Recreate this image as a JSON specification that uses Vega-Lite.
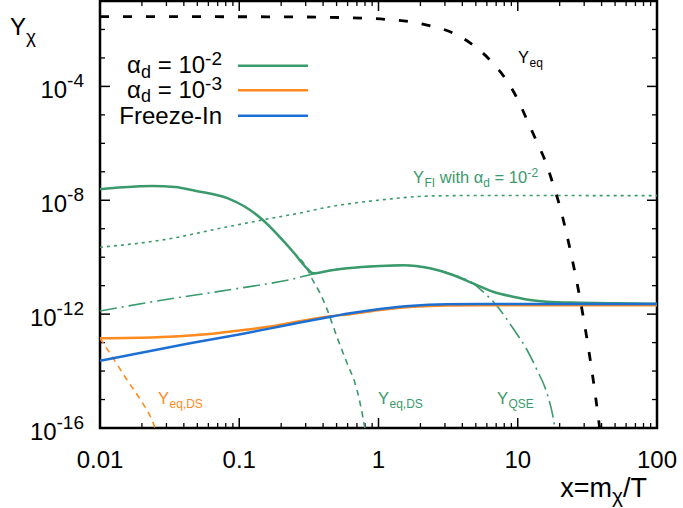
{
  "$schema": "https://vega.github.io/schema/vega-lite/v6.json",
  "width": 557,
  "height": 427,
  "autosize": {"type": "none"},
  "padding": {"left": 100, "top": 1, "right": 26, "bottom": 80},
  "background": "white",
  "config": {
    "view": {"stroke": "black", "strokeWidth": 2.5},
    "text": {"font": "Liberation Sans"},
    "axis": {"domain": false, "grid": false, "labels": false, "ticks": false, "title": null}
  },
  "datasets": {
    "curves": [
      {"series": "a2", "x": 0.01, "y": 2.43e-8},
      {"series": "a2", "x": 0.01463, "y": 2.85e-8},
      {"series": "a2", "x": 0.02362, "y": 3.17e-8},
      {"series": "a2", "x": 0.03456, "y": 2.9e-8},
      {"series": "a2", "x": 0.04811, "y": 2.17e-8},
      {"series": "a2", "x": 0.08303, "y": 1.17e-8},
      {"series": "a2", "x": 0.11, "y": 5.94e-9},
      {"series": "a2", "x": 0.1457, "y": 2.15e-9},
      {"series": "a2", "x": 0.1898, "y": 6.0e-10},
      {"series": "a2", "x": 0.2432, "y": 1.56e-10},
      {"series": "a2", "x": 0.3066, "y": 4.07e-11},
      {"series": "a2", "x": 0.3385, "y": 2.72e-11},
      {"series": "a2", "x": 0.4484, "y": 3.41e-11},
      {"series": "a2", "x": 0.5939, "y": 4.07e-11},
      {"series": "a2", "x": 1.025, "y": 4.91e-11},
      {"series": "a2", "x": 1.5, "y": 5.19e-11},
      {"series": "a2", "x": 2.343, "y": 4.07e-11},
      {"series": "a2", "x": 3.428, "y": 2.37e-11},
      {"series": "a2", "x": 4.771, "y": 1.21e-11},
      {"series": "a2", "x": 6.641, "y": 6.14e-12},
      {"series": "a2", "x": 9.245, "y": 4.1e-12},
      {"series": "a2", "x": 12.25, "y": 3.14e-12},
      {"series": "a2", "x": 16.22, "y": 2.73e-12},
      {"series": "a2", "x": 27.99, "y": 2.52e-12},
      {"series": "a2", "x": 48.31, "y": 2.4e-12},
      {"series": "a2", "x": 100, "y": 2.3e-12},

      {"series": "a3", "x": 0.01, "y": 1.416e-13},
      {"series": "a3", "x": 0.02566, "y": 1.535e-13},
      {"series": "a3", "x": 0.05224, "y": 1.879e-13},
      {"series": "a3", "x": 0.09954, "y": 2.661e-13},
      {"series": "a3", "x": 0.1662, "y": 3.677e-13},
      {"series": "a3", "x": 0.2314, "y": 4.88e-13},
      {"series": "a3", "x": 0.3222, "y": 6.48e-13},
      {"series": "a3", "x": 0.4484, "y": 8.39e-13},
      {"series": "a3", "x": 0.6242, "y": 9.94e-13},
      {"series": "a3", "x": 1.025, "y": 1.397e-12},
      {"series": "a3", "x": 1.769, "y": 1.809e-12},
      {"series": "a3", "x": 3.103, "y": 2.026e-12},
      {"series": "a3", "x": 5.357, "y": 2.06e-12},
      {"series": "a3", "x": 100, "y": 2.06e-12},

      {"series": "fi", "x": 0.01, "y": 2.313e-14},
      {"series": "fi", "x": 0.04428, "y": 9.45e-14},
      {"series": "fi", "x": 0.09954, "y": 1.925e-13},
      {"series": "fi", "x": 0.2314, "y": 4.32e-13},
      {"series": "fi", "x": 0.3801, "y": 6.91e-13},
      {"series": "fi", "x": 0.6242, "y": 1.069e-12},
      {"series": "fi", "x": 1.025, "y": 1.515e-12},
      {"series": "fi", "x": 1.769, "y": 1.978e-12},
      {"series": "fi", "x": 3.103, "y": 2.215e-12},
      {"series": "fi", "x": 5.357, "y": 2.27e-12},
      {"series": "fi", "x": 100, "y": 2.27e-12},

      {"series": "yeq", "x": 0.01, "y": 0.0281},
      {"series": "yeq", "x": 0.1, "y": 0.028},
      {"series": "yeq", "x": 0.2731, "y": 0.0275},
      {"series": "yeq", "x": 0.6, "y": 0.0258},
      {"series": "yeq", "x": 1.114, "y": 0.0228},
      {"series": "yeq", "x": 1.684, "y": 0.01875},
      {"series": "yeq", "x": 2.382, "y": 0.01323},
      {"series": "yeq", "x": 3.428, "y": 0.00751},
      {"series": "yeq", "x": 4.771, "y": 0.00285},
      {"series": "yeq", "x": 6.319, "y": 8.46e-4},
      {"series": "yeq", "x": 8.1, "y": 1.97e-4},
      {"series": "yeq", "x": 9.876, "y": 3.91e-5},
      {"series": "yeq", "x": 11.66, "y": 6.6e-6},
      {"series": "yeq", "x": 13.52, "y": 1.31e-6},
      {"series": "yeq", "x": 15.96, "y": 2.04e-7},
      {"series": "yeq", "x": 17.91, "y": 3.73e-8},
      {"series": "yeq", "x": 20.11, "y": 5.8e-9},
      {"series": "yeq", "x": 22, "y": 1.0e-9},
      {"series": "yeq", "x": 24, "y": 1.5e-10},
      {"series": "yeq", "x": 26, "y": 2.3e-11},
      {"series": "yeq", "x": 28, "y": 3.5e-12},
      {"series": "yeq", "x": 30, "y": 5.2e-13},
      {"series": "yeq", "x": 32, "y": 7.6e-14},
      {"series": "yeq", "x": 34, "y": 1.1e-14},
      {"series": "yeq", "x": 36, "y": 1.55e-15},
      {"series": "yeq", "x": 38, "y": 2.1e-16},
      {"series": "yeq", "x": 40, "y": 2.8e-17},

      {"series": "yfi", "x": 0.01, "y": 2.23e-10},
      {"series": "yfi", "x": 0.02788, "y": 4.02e-10},
      {"series": "yfi", "x": 0.08303, "y": 1.18e-9},
      {"series": "yfi", "x": 0.1962, "y": 2.65e-9},
      {"series": "yfi", "x": 0.2514, "y": 3.29e-9},
      {"series": "yfi", "x": 0.4484, "y": 5.94e-9},
      {"series": "yfi", "x": 1.025, "y": 1.02e-8},
      {"series": "yfi", "x": 2.343, "y": 1.41e-8},
      {"series": "yfi", "x": 5, "y": 1.47e-8},
      {"series": "yfi", "x": 100, "y": 1.45e-8},

      {"series": "eqds2", "x": 0.1898, "y": 6.0e-10},
      {"series": "eqds2", "x": 0.2432, "y": 1.56e-10},
      {"series": "eqds2", "x": 0.3066, "y": 4.07e-11},
      {"series": "eqds2", "x": 0.3316, "y": 1.82e-11},
      {"series": "eqds2", "x": 0.3801, "y": 5.5e-12},
      {"series": "eqds2", "x": 0.4267, "y": 1.5e-12},
      {"series": "eqds2", "x": 0.5032, "y": 1.57e-13},
      {"series": "eqds2", "x": 0.5939, "y": 1.92e-14},
      {"series": "eqds2", "x": 0.7009, "y": 2.16e-15},
      {"series": "eqds2", "x": 0.774, "y": 2.3e-16},
      {"series": "eqds2", "x": 0.83, "y": 3e-17},

      {"series": "eqds3", "x": 0.01, "y": 1.42e-13},
      {"series": "eqds3", "x": 0.0124, "y": 2.88e-14},
      {"series": "eqds3", "x": 0.01563, "y": 4.86e-15},
      {"series": "eqds3", "x": 0.01938, "y": 1.04e-15},
      {"series": "eqds3", "x": 0.02483, "y": 1e-16},
      {"series": "eqds3", "x": 0.027, "y": 2.5e-17},

      {"series": "qse", "x": 0.01, "y": 1.29e-12},
      {"series": "qse", "x": 0.02697, "y": 3.01e-12},
      {"series": "qse", "x": 0.08303, "y": 7.05e-12},
      {"series": "qse", "x": 0.2514, "y": 1.79e-11},
      {"series": "qse", "x": 0.3385, "y": 2.57e-11},
      {"series": "qse", "x": 0.4484, "y": 3.41e-11},
      {"series": "qse", "x": 0.5939, "y": 4.07e-11},
      {"series": "qse", "x": 1.025, "y": 4.91e-11},
      {"series": "qse", "x": 1.5, "y": 5.19e-11},
      {"series": "qse", "x": 2.343, "y": 4.07e-11},
      {"series": "qse", "x": 3.428, "y": 2.37e-11},
      {"series": "qse", "x": 4.771, "y": 1.21e-11},
      {"series": "qse", "x": 5.629, "y": 6.14e-12},
      {"series": "qse", "x": 7.096, "y": 1.93e-12},
      {"series": "qse", "x": 9.245, "y": 3.18e-13},
      {"series": "qse", "x": 11.66, "y": 5.5e-14},
      {"series": "qse", "x": 13.75, "y": 1.09e-14},
      {"series": "qse", "x": 16.22, "y": 1.66e-15},
      {"series": "qse", "x": 17.91, "y": 2.5e-16},
      {"series": "qse", "x": 19.0, "y": 4e-17}
    ],
    "labels": [
      {"series": "yeq", "x": 10.04, "y": 6.8e-4, "sub": "eq"},
      {"series": "yfi", "x": 1.769, "y": 3.95e-8, "sub": "FI"},
      {"series": "eqds3", "x": 0.02609, "y": 6.97e-16, "sub": "eq,DS"},
      {"series": "eqds2", "x": 0.9918, "y": 6.97e-16, "sub": "eq,DS"},
      {"series": "qse", "x": 7.096, "y": 6.97e-16, "sub": "QSE"}
    ],
    "legend": [
      {"series": "a2", "y": 5.34e-4, "exp": "-2"},
      {"series": "a3", "y": 7.29e-5, "exp": "-3"},
      {"series": "fi", "y": 9.35e-6, "exp": ""}
    ],
    "yticks": [
      {"v": 1e-4, "exp": "-4"},
      {"v": 1e-8, "exp": "-8"},
      {"v": 1e-12, "exp": "-12"},
      {"v": 1e-16, "exp": "-16"}
    ],
    "xticks": [
      {"v": 0.01, "t": "0.01"},
      {"v": 0.1, "t": "0.1"},
      {"v": 1, "t": "1"},
      {"v": 10, "t": "10"},
      {"v": 100, "t": "100"}
    ],
    "xminor": [
      {"v": 0.02}, {"v": 0.03}, {"v": 0.04}, {"v": 0.05}, {"v": 0.06}, {"v": 0.07}, {"v": 0.08}, {"v": 0.09},
      {"v": 0.2}, {"v": 0.3}, {"v": 0.4}, {"v": 0.5}, {"v": 0.6}, {"v": 0.7}, {"v": 0.8}, {"v": 0.9},
      {"v": 2}, {"v": 3}, {"v": 4}, {"v": 5}, {"v": 6}, {"v": 7}, {"v": 8}, {"v": 9},
      {"v": 20}, {"v": 30}, {"v": 40}, {"v": 50}, {"v": 60}, {"v": 70}, {"v": 80}, {"v": 90}
    ],
    "yminor": [
      {"v": 1e-15}, {"v": 1e-14}, {"v": 1e-13}, {"v": 1e-11}, {"v": 1e-10}, {"v": 1e-9},
      {"v": 1e-7}, {"v": 1e-6}, {"v": 1e-5}, {"v": 1e-3}, {"v": 1e-2}
    ]
  },
  "layer": [
    {
      "data": {"name": "curves"},
      "transform": [{"filter": "datum.series == 'yfi'"}],
      "mark": {"type": "line", "clip": true, "interpolate": "monotone", "strokeWidth": 1.6, "strokeDash": [3, 4]},
      "encoding": {
        "x": {"field": "x", "type": "quantitative", "scale": {"type": "log", "domain": [0.01, 100], "nice": false}, "axis": null},
        "y": {"field": "y", "type": "quantitative", "scale": {"type": "log", "domain": [1e-16, 0.1], "nice": false}, "axis": null},
        "color": {"field": "series", "type": "nominal", "legend": null,
          "scale": {"domain": ["a2","a3","fi","yeq","yfi","eqds2","eqds3","qse"], "range": ["#3a9a6c","#ff8a1d","#1d6fd4","#000000","#3a9a6c","#3a9a6c","#ff8a1d","#3a9a6c"]}}
      }
    },
    {
      "data": {"name": "xticks"},
      "mark": {"type": "rule", "strokeWidth": 1.5, "color": "black"},
      "encoding": {
        "x": {"field": "v", "type": "quantitative", "scale": {"type": "log", "domain": [0.01, 100], "nice": false}},
        "y": {"datum": 1e-16, "type": "quantitative", "scale": {"type": "log", "domain": [1e-16, 0.1], "nice": false}},
        "y2": {"datum": 2.245e-16}
      }
    },
    {
      "data": {"name": "xminor"},
      "mark": {"type": "rule", "strokeWidth": 1.3, "color": "black"},
      "encoding": {
        "x": {"field": "v", "type": "quantitative", "scale": {"type": "log", "domain": [0.01, 100], "nice": false}},
        "y": {"datum": 1e-16, "type": "quantitative", "scale": {"type": "log", "domain": [1e-16, 0.1], "nice": false}},
        "y2": {"datum": 1.498e-16}
      }
    },
    {
      "data": {"name": "xticks"},
      "mark": {"type": "rule", "strokeWidth": 1.5, "color": "black"},
      "encoding": {
        "x": {"field": "v", "type": "quantitative", "scale": {"type": "log", "domain": [0.01, 100], "nice": false}},
        "y": {"datum": 0.1, "type": "quantitative", "scale": {"type": "log", "domain": [1e-16, 0.1], "nice": false}},
        "y2": {"datum": 0.04454}
      }
    },
    {
      "data": {"name": "xminor"},
      "mark": {"type": "rule", "strokeWidth": 1.3, "color": "black"},
      "encoding": {
        "x": {"field": "v", "type": "quantitative", "scale": {"type": "log", "domain": [0.01, 100], "nice": false}},
        "y": {"datum": 0.1, "type": "quantitative", "scale": {"type": "log", "domain": [1e-16, 0.1], "nice": false}},
        "y2": {"datum": 0.06676}
      }
    },
    {
      "data": {"name": "yticks"},
      "mark": {"type": "rule", "strokeWidth": 1.5, "color": "black"},
      "encoding": {
        "x": {"datum": 0.01, "type": "quantitative", "scale": {"type": "log", "domain": [0.01, 100], "nice": false}},
        "x2": {"datum": 0.0118},
        "y": {"field": "v", "type": "quantitative", "scale": {"type": "log", "domain": [1e-16, 0.1], "nice": false}}
      }
    },
    {
      "data": {"name": "yminor"},
      "mark": {"type": "rule", "strokeWidth": 1.3, "color": "black"},
      "encoding": {
        "x": {"datum": 0.01, "type": "quantitative", "scale": {"type": "log", "domain": [0.01, 100], "nice": false}},
        "x2": {"datum": 0.010862},
        "y": {"field": "v", "type": "quantitative", "scale": {"type": "log", "domain": [1e-16, 0.1], "nice": false}}
      }
    },
    {
      "data": {"name": "yticks"},
      "mark": {"type": "rule", "strokeWidth": 1.5, "color": "black"},
      "encoding": {
        "x": {"datum": 100, "type": "quantitative", "scale": {"type": "log", "domain": [0.01, 100], "nice": false}},
        "x2": {"datum": 84.74},
        "y": {"field": "v", "type": "quantitative", "scale": {"type": "log", "domain": [1e-16, 0.1], "nice": false}}
      }
    },
    {
      "data": {"name": "yminor"},
      "mark": {"type": "rule", "strokeWidth": 1.3, "color": "black"},
      "encoding": {
        "x": {"datum": 100, "type": "quantitative", "scale": {"type": "log", "domain": [0.01, 100], "nice": false}},
        "x2": {"datum": 92.06},
        "y": {"field": "v", "type": "quantitative", "scale": {"type": "log", "domain": [1e-16, 0.1], "nice": false}}
      }
    },
    {
      "data": {"name": "curves"},
      "transform": [{"filter": "datum.series == 'qse'"}],
      "mark": {"type": "line", "clip": true, "interpolate": "monotone", "strokeWidth": 1.6, "strokeDash": [17, 5, 2, 5]},
      "encoding": {
        "x": {"field": "x", "type": "quantitative", "scale": {"type": "log", "domain": [0.01, 100], "nice": false}},
        "y": {"field": "y", "type": "quantitative", "scale": {"type": "log", "domain": [1e-16, 0.1], "nice": false}},
        "color": {"field": "series", "type": "nominal", "legend": null}
      }
    },
    {
      "data": {"name": "curves"},
      "transform": [{"filter": "datum.series == 'eqds2' || datum.series == 'eqds3'"}],
      "mark": {"type": "line", "clip": true, "interpolate": "monotone", "strokeWidth": 1.6, "strokeDash": [6, 5]},
      "encoding": {
        "x": {"field": "x", "type": "quantitative", "scale": {"type": "log", "domain": [0.01, 100], "nice": false}},
        "y": {"field": "y", "type": "quantitative", "scale": {"type": "log", "domain": [1e-16, 0.1], "nice": false}},
        "color": {"field": "series", "type": "nominal", "legend": null}
      }
    },
    {
      "data": {"name": "curves"},
      "transform": [{"filter": "datum.series == 'a3'"}],
      "mark": {"type": "line", "clip": true, "interpolate": "monotone", "strokeWidth": 2.5},
      "encoding": {
        "x": {"field": "x", "type": "quantitative", "scale": {"type": "log", "domain": [0.01, 100], "nice": false}},
        "y": {"field": "y", "type": "quantitative", "scale": {"type": "log", "domain": [1e-16, 0.1], "nice": false}},
        "color": {"field": "series", "type": "nominal", "legend": null}
      }
    },
    {
      "data": {"name": "curves"},
      "transform": [{"filter": "datum.series == 'a2'"}],
      "mark": {"type": "line", "clip": true, "interpolate": "monotone", "strokeWidth": 2.5},
      "encoding": {
        "x": {"field": "x", "type": "quantitative", "scale": {"type": "log", "domain": [0.01, 100], "nice": false}},
        "y": {"field": "y", "type": "quantitative", "scale": {"type": "log", "domain": [1e-16, 0.1], "nice": false}},
        "color": {"field": "series", "type": "nominal", "legend": null}
      }
    },
    {
      "data": {"name": "curves"},
      "transform": [{"filter": "datum.series == 'fi'"}],
      "mark": {"type": "line", "clip": true, "interpolate": "monotone", "strokeWidth": 2.5},
      "encoding": {
        "x": {"field": "x", "type": "quantitative", "scale": {"type": "log", "domain": [0.01, 100], "nice": false}},
        "y": {"field": "y", "type": "quantitative", "scale": {"type": "log", "domain": [1e-16, 0.1], "nice": false}},
        "color": {"field": "series", "type": "nominal", "legend": null}
      }
    },
    {
      "data": {"name": "curves"},
      "transform": [{"filter": "datum.series == 'yeq'"}],
      "mark": {"type": "line", "clip": true, "interpolate": "monotone", "strokeWidth": 2.8, "strokeDash": [9, 14]},
      "encoding": {
        "x": {"field": "x", "type": "quantitative", "scale": {"type": "log", "domain": [0.01, 100], "nice": false}},
        "y": {"field": "y", "type": "quantitative", "scale": {"type": "log", "domain": [1e-16, 0.1], "nice": false}},
        "color": {"field": "series", "type": "nominal", "legend": null}
      }
    },
    {
      "data": {"name": "labels"},
      "mark": {"type": "text", "align": "left", "baseline": "alphabetic", "fontSize": 16.5},
      "encoding": {
        "x": {"field": "x", "type": "quantitative", "scale": {"type": "log", "domain": [0.01, 100], "nice": false}},
        "y": {"field": "y", "type": "quantitative", "scale": {"type": "log", "domain": [1e-16, 0.1], "nice": false}},
        "text": {"value": "Y"},
        "color": {"field": "series", "type": "nominal", "legend": null}
      }
    },
    {
      "data": {"name": "labels"},
      "mark": {"type": "text", "align": "left", "baseline": "alphabetic", "fontSize": 12, "dx": 11.5, "dy": 4},
      "encoding": {
        "x": {"field": "x", "type": "quantitative", "scale": {"type": "log", "domain": [0.01, 100], "nice": false}},
        "y": {"field": "y", "type": "quantitative", "scale": {"type": "log", "domain": [1e-16, 0.1], "nice": false}},
        "text": {"field": "sub"},
        "color": {"field": "series", "type": "nominal", "legend": null}
      }
    },
    {
      "data": {"name": "labels"},
      "transform": [{"filter": "datum.series == 'yfi'"}],
      "mark": {"type": "text", "align": "left", "baseline": "alphabetic", "fontSize": 16.5, "dx": 26.8},
      "encoding": {
        "x": {"field": "x", "type": "quantitative", "scale": {"type": "log", "domain": [0.01, 100], "nice": false}},
        "y": {"field": "y", "type": "quantitative", "scale": {"type": "log", "domain": [1e-16, 0.1], "nice": false}},
        "text": {"value": "with α"},
        "color": {"field": "series", "type": "nominal", "legend": null}
      }
    },
    {
      "data": {"name": "labels"},
      "transform": [{"filter": "datum.series == 'yfi'"}],
      "mark": {"type": "text", "align": "left", "baseline": "alphabetic", "fontSize": 12, "dx": 70.3, "dy": 4},
      "encoding": {
        "x": {"field": "x", "type": "quantitative", "scale": {"type": "log", "domain": [0.01, 100], "nice": false}},
        "y": {"field": "y", "type": "quantitative", "scale": {"type": "log", "domain": [1e-16, 0.1], "nice": false}},
        "text": {"value": "d"},
        "color": {"field": "series", "type": "nominal", "legend": null}
      }
    },
    {
      "data": {"name": "labels"},
      "transform": [{"filter": "datum.series == 'yfi'"}],
      "mark": {"type": "text", "align": "left", "baseline": "alphabetic", "fontSize": 16.5, "dx": 81.6},
      "encoding": {
        "x": {"field": "x", "type": "quantitative", "scale": {"type": "log", "domain": [0.01, 100], "nice": false}},
        "y": {"field": "y", "type": "quantitative", "scale": {"type": "log", "domain": [1e-16, 0.1], "nice": false}},
        "text": {"value": "= 10"},
        "color": {"field": "series", "type": "nominal", "legend": null}
      }
    },
    {
      "data": {"name": "labels"},
      "transform": [{"filter": "datum.series == 'yfi'"}],
      "mark": {"type": "text", "align": "left", "baseline": "alphabetic", "fontSize": 12, "dx": 114.4, "dy": -6},
      "encoding": {
        "x": {"field": "x", "type": "quantitative", "scale": {"type": "log", "domain": [0.01, 100], "nice": false}},
        "y": {"field": "y", "type": "quantitative", "scale": {"type": "log", "domain": [1e-16, 0.1], "nice": false}},
        "text": {"value": "-2"},
        "color": {"field": "series", "type": "nominal", "legend": null}
      }
    },
    {
      "data": {"name": "yticks"},
      "mark": {"type": "text", "align": "right", "baseline": "alphabetic", "fontSize": 19, "dx": -16, "dy": 1, "color": "black"},
      "encoding": {
        "x": {"datum": 0.01, "type": "quantitative", "scale": {"type": "log", "domain": [0.01, 100], "nice": false}},
        "y": {"field": "v", "type": "quantitative", "scale": {"type": "log", "domain": [1e-16, 0.1], "nice": false}},
        "text": {"field": "exp"}
      }
    },
    {
      "data": {"name": "yticks"},
      "transform": [{"filter": "length(datum.exp) == 2"}],
      "mark": {"type": "text", "align": "right", "baseline": "alphabetic", "fontSize": 24, "dx": -32.9, "dy": 11.5, "color": "black"},
      "encoding": {
        "x": {"datum": 0.01, "type": "quantitative", "scale": {"type": "log", "domain": [0.01, 100], "nice": false}},
        "y": {"field": "v", "type": "quantitative", "scale": {"type": "log", "domain": [1e-16, 0.1], "nice": false}},
        "text": {"value": "10"}
      }
    },
    {
      "data": {"name": "yticks"},
      "transform": [{"filter": "length(datum.exp) == 3"}],
      "mark": {"type": "text", "align": "right", "baseline": "alphabetic", "fontSize": 24, "dx": -43.4, "dy": 11.5, "color": "black"},
      "encoding": {
        "x": {"datum": 0.01, "type": "quantitative", "scale": {"type": "log", "domain": [0.01, 100], "nice": false}},
        "y": {"field": "v", "type": "quantitative", "scale": {"type": "log", "domain": [1e-16, 0.1], "nice": false}},
        "text": {"value": "10"}
      }
    },
    {
      "data": {"name": "xticks"},
      "mark": {"type": "text", "align": "center", "baseline": "alphabetic", "fontSize": 24, "dy": 40, "color": "black"},
      "encoding": {
        "x": {"field": "v", "type": "quantitative", "scale": {"type": "log", "domain": [0.01, 100], "nice": false}},
        "y": {"datum": 1e-16, "type": "quantitative", "scale": {"type": "log", "domain": [1e-16, 0.1], "nice": false}},
        "text": {"field": "t"}
      }
    },
    {
      "data": {"values": [{"t": "Y"}]},
      "mark": {"type": "text", "align": "left", "baseline": "alphabetic", "fontSize": 24, "dx": -90, "dy": 34, "color": "black"},
      "encoding": {
        "x": {"datum": 0.01, "type": "quantitative", "scale": {"type": "log", "domain": [0.01, 100], "nice": false}},
        "y": {"datum": 0.1, "type": "quantitative", "scale": {"type": "log", "domain": [1e-16, 0.1], "nice": false}},
        "text": {"field": "t"}
      }
    },
    {
      "data": {"values": [{"t": "χ"}]},
      "mark": {"type": "text", "align": "left", "baseline": "alphabetic", "fontSize": 19, "dx": -74, "dy": 42, "color": "black"},
      "encoding": {
        "x": {"datum": 0.01, "type": "quantitative", "scale": {"type": "log", "domain": [0.01, 100], "nice": false}},
        "y": {"datum": 0.1, "type": "quantitative", "scale": {"type": "log", "domain": [1e-16, 0.1], "nice": false}},
        "text": {"field": "t"}
      }
    },
    {
      "data": {"values": [{"t": "/T"}]},
      "mark": {"type": "text", "align": "right", "baseline": "alphabetic", "fontSize": 27, "dx": -10, "dy": 69, "color": "black"},
      "encoding": {
        "x": {"datum": 100, "type": "quantitative", "scale": {"type": "log", "domain": [0.01, 100], "nice": false}},
        "y": {"datum": 1e-16, "type": "quantitative", "scale": {"type": "log", "domain": [1e-16, 0.1], "nice": false}},
        "text": {"field": "t"}
      }
    },
    {
      "data": {"values": [{"t": "χ"}]},
      "mark": {"type": "text", "align": "right", "baseline": "alphabetic", "fontSize": 21, "dx": -34, "dy": 75, "color": "black"},
      "encoding": {
        "x": {"datum": 100, "type": "quantitative", "scale": {"type": "log", "domain": [0.01, 100], "nice": false}},
        "y": {"datum": 1e-16, "type": "quantitative", "scale": {"type": "log", "domain": [1e-16, 0.1], "nice": false}},
        "text": {"field": "t"}
      }
    },
    {
      "data": {"values": [{"t": "x=m"}]},
      "mark": {"type": "text", "align": "right", "baseline": "alphabetic", "fontSize": 27, "dx": -45, "dy": 69, "color": "black"},
      "encoding": {
        "x": {"datum": 100, "type": "quantitative", "scale": {"type": "log", "domain": [0.01, 100], "nice": false}},
        "y": {"datum": 1e-16, "type": "quantitative", "scale": {"type": "log", "domain": [1e-16, 0.1], "nice": false}},
        "text": {"field": "t"}
      }
    },
    {
      "data": {"name": "legend"},
      "mark": {"type": "rule", "strokeWidth": 2.5},
      "encoding": {
        "x": {"datum": 0.09795, "type": "quantitative", "scale": {"type": "log", "domain": [0.01, 100], "nice": false}},
        "x2": {"datum": 0.3116},
        "y": {"field": "y", "type": "quantitative", "scale": {"type": "log", "domain": [1e-16, 0.1], "nice": false}},
        "color": {"field": "series", "type": "nominal", "legend": null}
      }
    },
    {
      "data": {"name": "legend"},
      "transform": [{"filter": "datum.exp != ''"}],
      "mark": {"type": "text", "align": "right", "baseline": "alphabetic", "fontSize": 19, "dx": -16, "dy": -0.7, "color": "black"},
      "encoding": {
        "x": {"datum": 0.09795, "type": "quantitative", "scale": {"type": "log", "domain": [0.01, 100], "nice": false}},
        "y": {"field": "y", "type": "quantitative", "scale": {"type": "log", "domain": [1e-16, 0.1], "nice": false}},
        "text": {"field": "exp"}
      }
    },
    {
      "data": {"name": "legend"},
      "transform": [{"filter": "datum.exp != ''"}],
      "mark": {"type": "text", "align": "right", "baseline": "alphabetic", "fontSize": 24, "dx": -32.9, "dy": 7.6, "color": "black"},
      "encoding": {
        "x": {"datum": 0.09795, "type": "quantitative", "scale": {"type": "log", "domain": [0.01, 100], "nice": false}},
        "y": {"field": "y", "type": "quantitative", "scale": {"type": "log", "domain": [1e-16, 0.1], "nice": false}},
        "text": {"value": "= 10"}
      }
    },
    {
      "data": {"name": "legend"},
      "transform": [{"filter": "datum.exp != ''"}],
      "mark": {"type": "text", "align": "right", "baseline": "alphabetic", "fontSize": 18, "dx": -86.9, "dy": 12, "color": "black"},
      "encoding": {
        "x": {"datum": 0.09795, "type": "quantitative", "scale": {"type": "log", "domain": [0.01, 100], "nice": false}},
        "y": {"field": "y", "type": "quantitative", "scale": {"type": "log", "domain": [1e-16, 0.1], "nice": false}},
        "text": {"value": "d"}
      }
    },
    {
      "data": {"name": "legend"},
      "transform": [{"filter": "datum.exp != ''"}],
      "mark": {"type": "text", "align": "right", "baseline": "alphabetic", "fontSize": 24, "dx": -97, "dy": 7.6, "color": "black"},
      "encoding": {
        "x": {"datum": 0.09795, "type": "quantitative", "scale": {"type": "log", "domain": [0.01, 100], "nice": false}},
        "y": {"field": "y", "type": "quantitative", "scale": {"type": "log", "domain": [1e-16, 0.1], "nice": false}},
        "text": {"value": "α"}
      }
    },
    {
      "data": {"name": "legend"},
      "transform": [{"filter": "datum.exp == ''"}],
      "mark": {"type": "text", "align": "right", "baseline": "alphabetic", "fontSize": 24, "dx": -16, "dy": 8, "color": "black"},
      "encoding": {
        "x": {"datum": 0.09795, "type": "quantitative", "scale": {"type": "log", "domain": [0.01, 100], "nice": false}},
        "y": {"field": "y", "type": "quantitative", "scale": {"type": "log", "domain": [1e-16, 0.1], "nice": false}},
        "text": {"value": "Freeze-In"}
      }
    }
  ]
}
